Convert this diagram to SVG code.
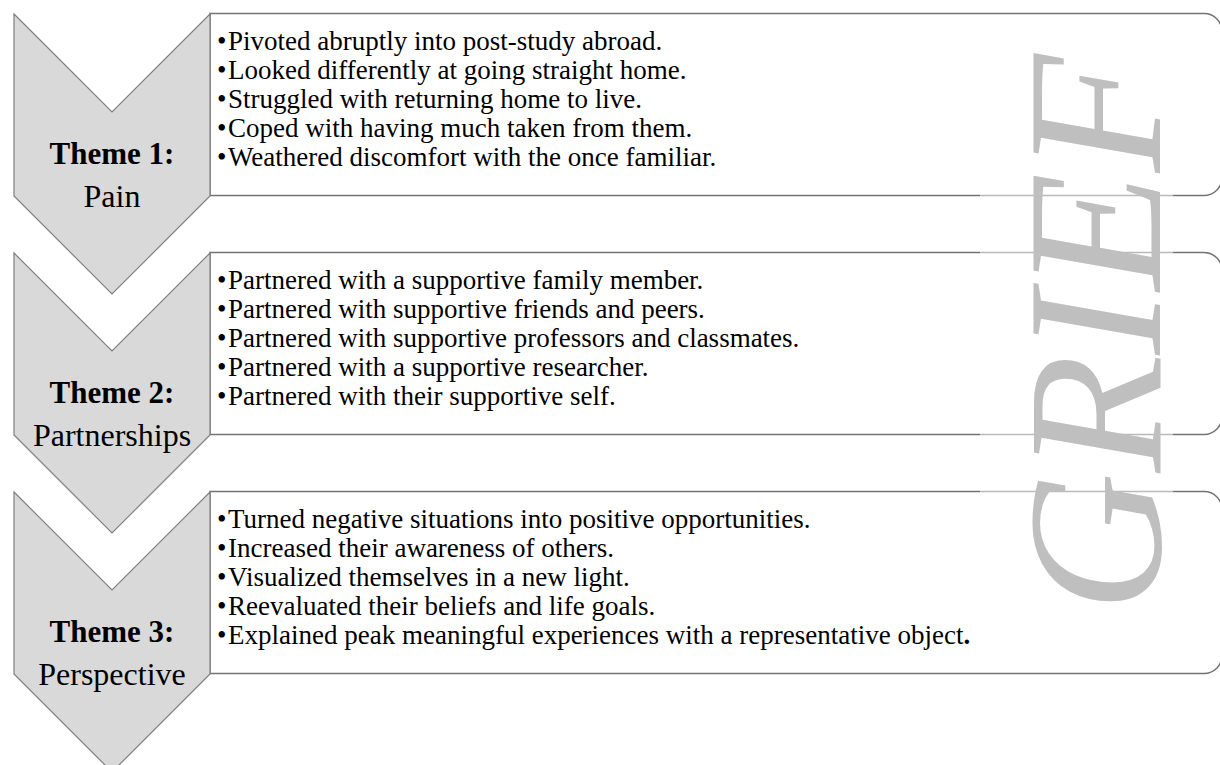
<svg xmlns="http://www.w3.org/2000/svg" width="1220" height="765" viewBox="0 0 1220 765">
<defs>
<style>
.chev{fill:#d9d9d9;stroke:#7f7f7f;stroke-width:1.2}
.box{fill:#ffffff;stroke:#737373;stroke-width:1.5}
.t{font-family:"Liberation Serif","Times New Roman",serif;fill:#000}
.body{font-size:27px}
.hd{font-size:31px;font-weight:bold;text-anchor:middle}
.sub{font-size:32px;text-anchor:middle}
.grief{font-family:"Liberation Serif","Times New Roman",serif;font-style:italic;font-size:193px;fill:#bfbfbf}
</style>
</defs>
<rect width="1220" height="765" fill="#ffffff"/>

<g id="theme1">
<path class="box" d="M210,13.5 H1204 A18,18 0 0 1 1222,31.5 V177.5 A18,18 0 0 1 1204,195.5 H210 Z"/>
<path class="chev" d="M14,14 L112,112 L210,14 L210,196 L112,294 L14,196 Z"/>
<text class="t hd" x="112" y="164">Theme 1:</text>
<text class="t sub" x="112" y="207">Pain</text>
<g class="t body">
<text x="217" y="50">•<tspan x="228">Pivoted abruptly into post-study abroad.</tspan></text>
<text x="217" y="79">•<tspan x="228">Looked differently at going straight home.</tspan></text>
<text x="217" y="108">•<tspan x="228">Struggled with returning home to live.</tspan></text>
<text x="217" y="137">•<tspan x="228">Coped with having much taken from them.</tspan></text>
<text x="217" y="166">•<tspan x="228">Weathered discomfort with the once familiar.</tspan></text>
</g>
</g>

<g id="theme2">
<path class="box" d="M210,252.5 H1204 A18,18 0 0 1 1222,270.5 V416.5 A18,18 0 0 1 1204,434.5 H210 Z"/>
<path class="chev" d="M14,253 L112,351 L210,253 L210,435 L112,533 L14,435 Z"/>
<text class="t hd" x="112" y="403">Theme 2:</text>
<text class="t sub" x="112" y="446">Partnerships</text>
<g class="t body">
<text x="217" y="289">•<tspan x="228">Partnered with a supportive family member.</tspan></text>
<text x="217" y="318">•<tspan x="228">Partnered with supportive friends and peers.</tspan></text>
<text x="217" y="347">•<tspan x="228">Partnered with supportive professors and classmates.</tspan></text>
<text x="217" y="376">•<tspan x="228">Partnered with a supportive researcher.</tspan></text>
<text x="217" y="405">•<tspan x="228">Partnered with their supportive self.</tspan></text>
</g>
</g>

<g id="theme3">
<path class="box" d="M210,491.5 H1204 A18,18 0 0 1 1222,509.5 V655.5 A18,18 0 0 1 1204,673.5 H210 Z"/>
<path class="chev" d="M14,492 L112,590 L210,492 L210,674 L112,772 L14,674 Z"/>
<text class="t hd" x="112" y="642">Theme 3:</text>
<text class="t sub" x="112" y="685">Perspective</text>
<g class="t body">
<text x="217" y="528">•<tspan x="228">Turned negative situations into positive opportunities.</tspan></text>
<text x="217" y="557">•<tspan x="228">Increased their awareness of others.</tspan></text>
<text x="217" y="586">•<tspan x="228">Visualized themselves in a new light.</tspan></text>
<text x="217" y="615">•<tspan x="228">Reevaluated their beliefs and life goals.</tspan></text>
<text x="217" y="644">•<tspan x="228">Explained peak meaningful experiences with a representative object<tspan font-weight="bold">.</tspan></tspan></text>
</g>
</g>

<g id="connectors"></g>

<g id="grief">
<rect x="980" y="25" width="193" height="620" fill="#ffffff" fill-opacity="0.5"/>
<text class="grief" transform="translate(1160,612) rotate(-90)" x="0" y="0">GRIEF</text>
</g>
</svg>
